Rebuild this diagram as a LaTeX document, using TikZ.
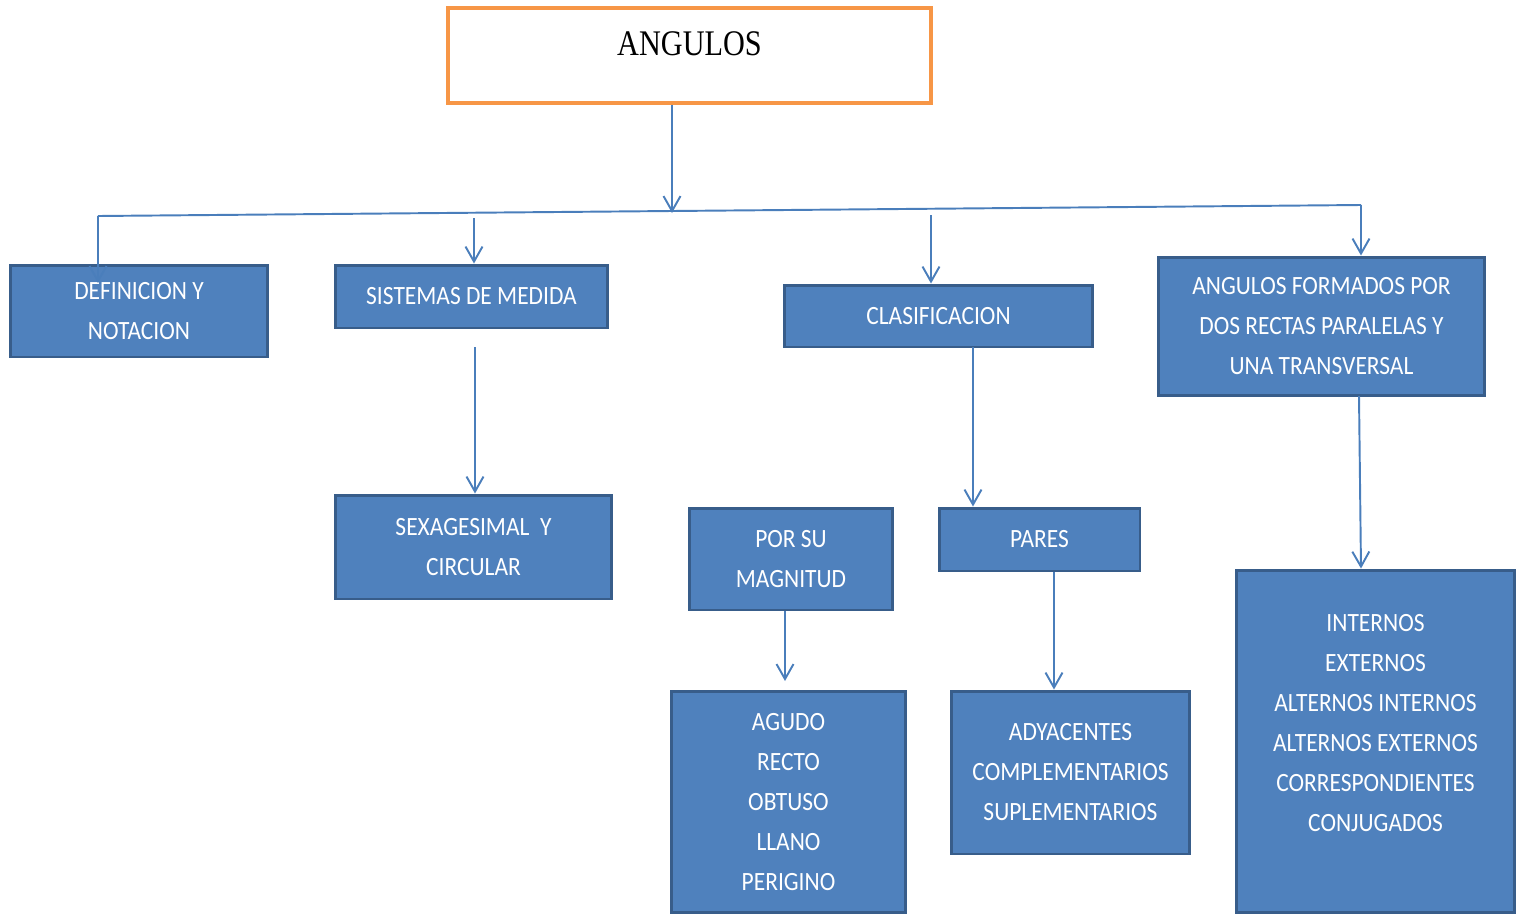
\documentclass[tikz,border=0pt]{standalone}
\usepackage{fontspec}
\setmainfont{Carlito}[FakeStretch=0.89]
\newfontfamily\titlefont{Liberation Serif}[FakeStretch=0.84]
\usepackage{tikz}
\usetikzlibrary{positioning,calc,arrows.meta}
\definecolor{BoxBlue}{RGB}{79,129,189}
\definecolor{BoxEdge}{RGB}{56,93,138}
\definecolor{LineBlue}{RGB}{74,126,187}
\definecolor{TitleOrange}{RGB}{247,150,70}

\begin{document}
\begin{tikzpicture}[x=0.02cm, y=-0.02cm,
                % cajas
                titlebox/.style={draw=TitleOrange, line width=2pt, fill=white, font=\titlefont\fontsize{20.5}{24}\selectfont, text height=0.55cm, text depth=0.55cm, inner sep=0pt},
                bluebox/.style={draw=BoxEdge, line width=1.7pt, fill=BoxBlue, text=white, align=center, font=\fontsize{15}{22.76}\selectfont, inner sep=0pt},
                % conectores
                link/.style={draw=LineBlue, line width=1.1pt},
                arrowlink/.style={link, -{Straight Barb[length=0.3cm, width=0.34cm, line width=1.1pt]}}
            ]
                \useasboundingbox (0,0) rectangle (1518,923);

                % --- CAJAS ---
                \node[titlebox, minimum width=9.66cm, minimum height=1.9cm] (angulos) at (689.5,55.5) {ANGULOS};

                % Nivel 1
                \node[bluebox, minimum width=5.16cm, minimum height=1.84cm] (defin) at (139,311) {DEFINICION Y\\NOTACION};
                \node[bluebox, minimum width=5.46cm, minimum height=1.26cm] (sistemas) at (471.5,296.5) {SISTEMAS DE MEDIDA};
                \node[bluebox, minimum width=6.18cm, minimum height=1.24cm] (clasif) at (938.5,316) {CLASIFICACION};
                \node[bluebox, minimum width=6.54cm, minimum height=2.78cm] (formados) at (1321.5,326.5) {ANGULOS FORMADOS POR\\DOS RECTAS PARALELAS Y\\UNA TRANSVERSAL};

                % Nivel 2
                \node[bluebox, minimum width=5.54cm, minimum height=2.08cm] (sexag) at (473.5,547) {SEXAGESIMAL~ Y\\CIRCULAR};
                \node[bluebox, minimum width=4.08cm, minimum height=2.04cm] (magnitud) at (791,559) {POR SU\\MAGNITUD};
                \node[bluebox, minimum width=4.02cm, minimum height=1.26cm] (pares) at (1039.5,539.5) {PARES};

                % Nivel 3
                \node[bluebox, minimum width=4.7cm, minimum height=4.44cm] (tipos) at (788.5,802) {AGUDO\\RECTO\\OBTUSO\\LLANO\\PERIGINO};
                \node[bluebox, minimum width=4.78cm, minimum height=3.26cm] (adyac) at (1070.5,772.5) {ADYACENTES\\COMPLEMENTARIOS\\SUPLEMENTARIOS};
                \node[bluebox, minimum width=5.58cm, minimum height=6.86cm] (internos) at (1375.5,741.5) {INTERNOS\\EXTERNOS\\ALTERNOS INTERNOS\\ALTERNOS EXTERNOS\\CORRESPONDIENTES\\CONJUGADOS\\[-0.05cm]};

                % --- PUNTOS LIBRES ---
                \coordinate (hmid) at (672,213);
                \coordinate (hleft) at (98,216);
                \coordinate (hright) at (1361,205);
                \coordinate (defend) at (98,283);
                \coordinate (sisttop) at (474,218);
                \coordinate (clastop) at (931,215);
                \coordinate (sistbot) at (475,347);
                \coordinate (clasbot) at (973,347);
                \coordinate (formbot) at (1359,396);
                \coordinate (magend) at (785,681);
                \coordinate (parx) at (1054,0);

                % --- CONECTORES ---
                \draw[arrowlink] (angulos.south -| hmid) -- (hmid);
                \draw[link] (hleft) -- (hright);
                \draw[arrowlink] (hleft) -- (defend);
                \draw[arrowlink] (hright) -- (formados.north -| hright);
                \draw[arrowlink] (sisttop) -- (sistemas.north -| sisttop);
                \draw[arrowlink] (clastop) -- (clasif.north -| clastop);

                \draw[arrowlink] (sistbot) -- (sexag.north -| sistbot);
                \draw[arrowlink] (clasbot) -- (pares.north -| clasbot);
                \draw[arrowlink] (formbot) -- (internos.north -| hright);

                \draw[arrowlink] (magnitud.south -| magend) -- (magend);
                \draw[arrowlink] (pares.south -| parx) -- (adyac.north -| parx);

            \end{tikzpicture}
\end{document}
